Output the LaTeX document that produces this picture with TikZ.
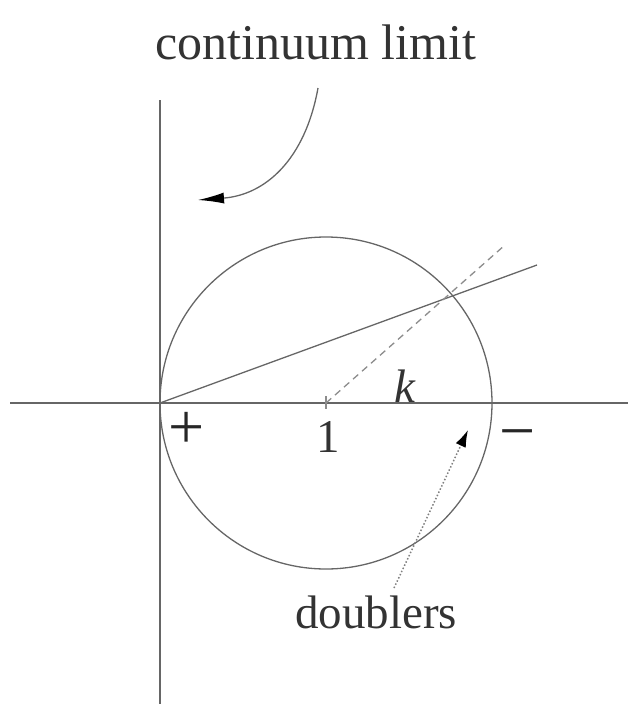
\documentclass[tikz,border=0pt]{standalone}
\usepackage{fontspec}
\setmainfont{Liberation Serif}
\usetikzlibrary{arrows.meta}
\begin{document}
\begin{tikzpicture}[x=1pt,y=-1pt,
  ln/.style={line width=1.3pt, draw=black!60},
  lbl/.style={inner sep=0pt, font=\fontsize{47}{50}\selectfont, text=black!80},
  sgn/.style={inner sep=0pt, font=\fontsize{64}{66}\selectfont, text=black!85}]
\useasboundingbox (0,0) rectangle (628,704);
\coordinate (O) at (160,403);
\coordinate (C) at (326,403);
\coordinate (vtop) at (160,100);
\coordinate (vbot) at (160,704);
\coordinate (hl) at (10,403);
\coordinate (hr) at (628,403);
\coordinate (sEnd) at (537,265);
\coordinate (dEnd) at (505,245);
\coordinate (aS) at (318,88);
\coordinate (aE) at (198,200);
\coordinate (bS) at (394,588);
\coordinate (bE) at (468,430);
% axes
\draw[ln] (vtop) -- (vbot);
\draw[ln] (hl) -- (hr);
% circle
\draw[ln] (C) circle[radius=166pt];
% lines
\draw[ln] (O) -- (sEnd);
\draw[ln, draw=black!45, dash pattern=on 7pt off 5pt] (C) -- (dEnd);
\draw[ln, draw=black!45] (326,396) -- (326,409);
% arrows
\draw[ln, -{Latex[length=26pt,width=11pt,color=black]}] (aS) .. controls (305,160) and (265,195) .. (aE);
\draw[line width=1.5pt, draw=black!50, dotted, -{Latex[length=17pt,width=11pt,color=black]}] (bS) -- (bE);
% labels
\node[lbl, font=\fontsize{50}{54}\selectfont] (title) at (316,42) {continuum limit};
\node[lbl] (k) at (405,386) {\textit{k}};
\node[sgn] (plus) at (187,430) {+};
\node[lbl] (one) at (328,437) {1};
\node[sgn] (minus) at (518,441) {\char"2212};
\node[lbl] (dbl) at (376,612) {doublers};
\end{tikzpicture}
\end{document}
